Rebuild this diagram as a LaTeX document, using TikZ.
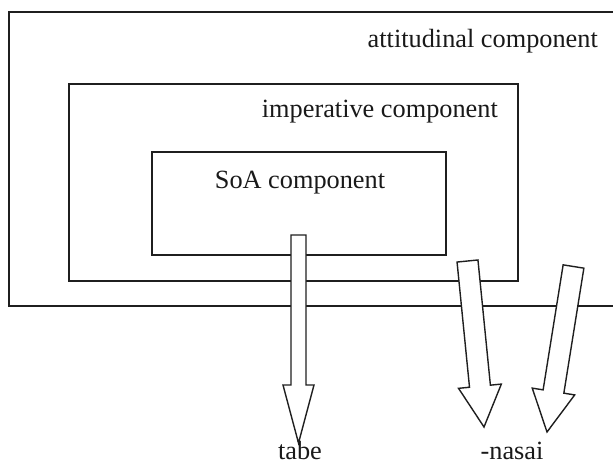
\documentclass[tikz,border=0pt]{standalone}
\usepackage{fontspec}
\setmainfont{Liberation Serif}
\usetikzlibrary{calc}
\newcommand\blockarrow[5]{% tail, tip, shaft half-width, head half-width, head length
  \coordinate (#1h) at ($(#2)!#5!(#1)$);
  \draw[barrow] ($(#1)!#3!90:(#2)$) -- ($(#1h)!#3!90:(#2)$) -- ($(#1h)!#4!90:(#2)$)
    -- (#2) -- ($(#1h)!#4!-90:(#2)$) -- ($(#1h)!#3!-90:(#2)$) -- ($(#1)!#3!-90:(#2)$) -- cycle;
}
\begin{document}
\begin{tikzpicture}[x=1pt,y=-1pt,
  box/.style={draw=black!88,line width=1.4pt,inner sep=0pt,outer sep=0pt,anchor=north west},
  lbl/.style={inner sep=0pt,font=\fontsize{26.3}{30}\selectfont,text=black!90},
  barrow/.style={draw=black!88,line width=1.4pt,fill=white,line join=miter}]
\useasboundingbox (0,0) rectangle (613,464);
% boxes
\node[box,minimum width=616pt,minimum height=294pt] (outer) at (9,12) {};
\node[box,minimum width=449pt,minimum height=197pt] (imp) at (69,84) {};
\node[box,minimum width=294pt,minimum height=103pt] (soa) at (152,152) {};
% labels
\node[lbl,anchor=base east] (attL) at (598,47) {attitudinal component};
\node[lbl,anchor=base east] (impL) at (498,117) {imperative component};
\node[lbl,anchor=base] (soaL) at (300,188) {SoA component};
\node[lbl,anchor=base] (tabe) at (300,459) {tabe};
\node[lbl,anchor=base] (nasai) at (512,459) {-nasai};
% arrows
\coordinate (aT) at (298.5,235);
\coordinate (aTip) at (298.5,443);
\coordinate (bT) at (467.5,261);
\coordinate (bTip) at (484,427);
\coordinate (cT) at (573.5,266.5);
\coordinate (cTip) at (547,432);
\blockarrow{aT}{aTip}{7.5pt}{15.5pt}{58pt}
\blockarrow{bT}{bTip}{10.5pt}{21.5pt}{41pt}
\blockarrow{cT}{cTip}{10.5pt}{21.5pt}{41pt}
\end{tikzpicture}
\end{document}
